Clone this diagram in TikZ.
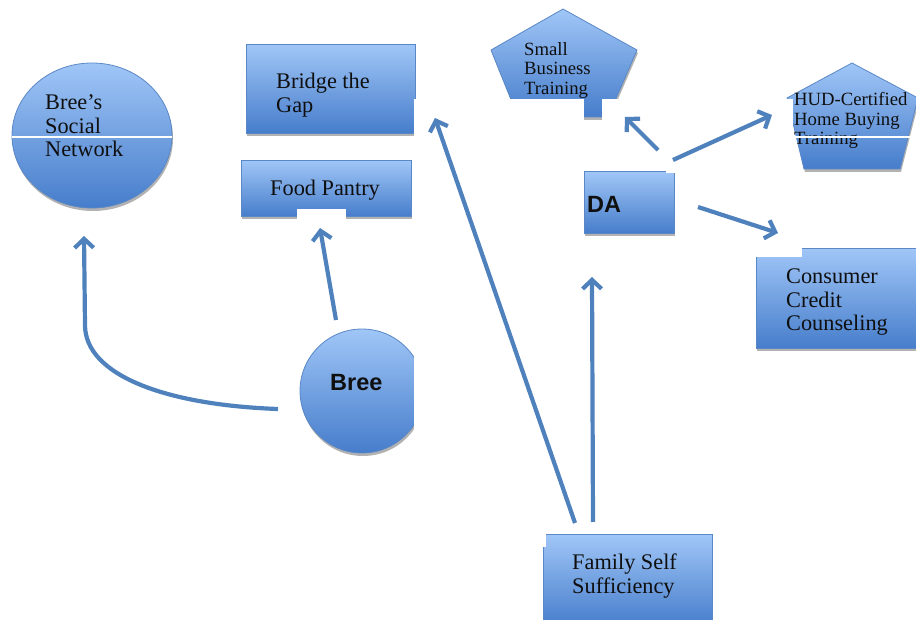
\documentclass[tikz,border=0pt]{standalone}
\usepackage{fontspec}
\setmainfont{Liberation Serif}
\newfontfamily\arialfont{Liberation Sans}
\usetikzlibrary{arrows.meta,shadows,shapes.geometric}
\definecolor{topc}{RGB}{160,198,247}
\definecolor{botc}{RGB}{70,125,203}
\definecolor{edgec}{RGB}{90,135,198}
\definecolor{arrc}{RGB}{79,129,189}
\definecolor{txtc}{RGB}{15,15,15}
\tikzset{
  fillshape/.style={top color=topc,bottom color=botc,draw=edgec,line width=0.8pt,
    drop shadow={shadow xshift=1pt,shadow yshift=-3pt,fill=black,opacity=0.3}},
  boxshape/.style={fillshape,rectangle,inner sep=0pt,anchor=north west},
  whitecut/.style={fill=white,draw=none},
  whiteline/.style={draw=white,line width=1.2pt},
  arr/.style={draw=arrc,line width=4.2pt,-{Straight Barb[length=9pt,width=19pt,line width=4.2pt]}},
  bigtxt/.style={text=txtc,inner sep=0pt,align=left,font=\fontsize{22.3}{23.5}\selectfont},
  smalltxt/.style={text=txtc,inner sep=0pt,align=left,font=\fontsize{18.7}{19.7}\selectfont},
  sanstxt/.style={text=txtc,inner sep=0pt,font=\arialfont\bfseries\fontsize{23.5}{26}\selectfont}
}
\begin{document}
\begin{tikzpicture}[x=1pt,y=-1pt]
\useasboundingbox (0,0) rectangle (916,620);
\begin{scope}
\clip (0,0) rectangle (916,620);
% shapes
\node[fillshape,ellipse,inner sep=0pt,minimum width=160pt,minimum height=145pt] (sn) at (92,135.5) {};
\node[boxshape,minimum width=169pt,minimum height=89pt] (btg) at (246,44) {};
\node[boxshape,minimum width=170pt,minimum height=56pt] (fp) at (241,160) {};
\path[fillshape] (563,9) -- (637,50) -- (608,117) -- (518,117) -- (491,50) -- cycle;
\coordinate (sbt) at (563,63);
\path[fillshape] (852,63) -- (918,98) -- (900,169) -- (804,169) -- (787,98) -- cycle;
\coordinate (hud) at (852,116);
\node[boxshape,minimum width=90pt,minimum height=62pt] (da) at (584,171) {};
\node[boxshape,minimum width=164pt,minimum height=100pt] (ccc) at (756,248) {};
\node[fillshape,circle,inner sep=0pt,minimum size=124pt] (bree) at (362,391) {};
\node[boxshape,minimum width=169pt,minimum height=92pt] (fss) at (543,534) {};
% texts
\node[bigtxt,anchor=west] (snt) at (45,126) {Bree’s\\Social\\Network};
\node[bigtxt,anchor=west] (btgt) at (276,95) {Bridge the\\Gap};
\node[bigtxt,anchor=base west] (fpt) at (270,196) {Food Pantry};
\node[smalltxt,anchor=west] (sbtt) at (524,70.5) {Small\\Business\\Training};
\node[smalltxt,anchor=west] (hudt) at (794,120.5) {HUD-Certified\\Home Buying\\Training};
\node[sanstxt,anchor=base west] (dat) at (587,213) {DA};
\node[bigtxt,anchor=west] (ccct) at (786,302.5) {Consumer\\Credit\\Counseling};
\node[sanstxt,anchor=base west] (breet) at (330,390) {Bree};
\node[bigtxt,anchor=west] (fsst) at (572,576) {Family Self\\Sufficiency};
% white cut-outs of the original rendering
\path[whitecut] (413.5,99) rectangle (432,142);
\path[whitecut] (297,209) rectangle (346,226);
\path[whitecut] (480,99.5) rectangle (584,127);
\path[whitecut] (602,99.5) rectangle (645,127);
\path[whitecut] (778,99) rectangle (793,178);
\path[whitecut] (738,238) rectangle (802,257);
\path[whitecut] (413.5,320) rectangle (440,462);
\path[whitecut] (528,522) rectangle (546,547);
\path[whitecut] (666,166) rectangle (680,173);
\draw[whiteline] (12,137) -- (172,137);
\draw[whiteline] (793,137) -- (911,137);
% connectors
\coordinate (a1s) at (278,409);
\coordinate (a1e) at (84,236);
\coordinate (a2s) at (336,320);
\coordinate (a2e) at (320,228);
\coordinate (a3s) at (575,523);
\coordinate (a3e) at (435,118);
\coordinate (a4s) at (593,522);
\coordinate (a4e) at (592,277);
\coordinate (a5s) at (658,150);
\coordinate (a5e) at (625,117);
\coordinate (a6s) at (673,160);
\coordinate (a6e) at (772,115);
\coordinate (a7s) at (698,207);
\coordinate (a7e) at (778,233);
\draw[arr] (a1s) .. controls (165,405) and (85,375) .. (85,325) -- (a1e);
\draw[arr] (a2s) -- (a2e);
\draw[arr] (a3s) -- (a3e);
\draw[arr] (a4s) -- (a4e);
\draw[arr] (a5s) -- (a5e);
\draw[arr] (a6s) -- (a6e);
\draw[arr] (a7s) -- (a7e);
\end{scope}
\end{tikzpicture}
\end{document}
